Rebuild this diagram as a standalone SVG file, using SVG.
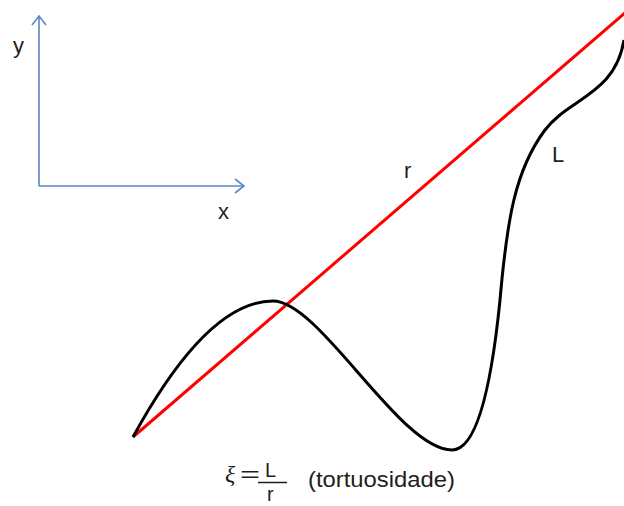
<svg xmlns="http://www.w3.org/2000/svg" width="624" height="506" viewBox="0 0 624 506">
<style>
.axis{stroke:#5b87c6;stroke-width:1.6;fill:none}
.lbl{font-family:"Liberation Sans",Arial,sans-serif;font-size:22px;fill:#1e1e1e}
.frac{font-family:"Liberation Sans",Arial,sans-serif;font-size:20px;fill:#1e1e1e}
.math{font-family:"Liberation Serif","DejaVu Serif",serif;font-size:24px;fill:#1e1e1e}
</style>
<rect width="624" height="506" fill="#fff"/>
<g id="axes">
<path class="axis" d="M39,186 V16 M39,186 H244"/>
<path class="axis" d="M32,25 L39,16 L46,25"/>
<path class="axis" d="M235,179 L244,186 L235,193"/>
<text class="lbl" x="13" y="53">y</text>
<text class="lbl" x="218" y="219">x</text>
</g>
<g id="connectors">
<line id="r-line" x1="133" y1="437" x2="626" y2="12" stroke="#ff0000" stroke-width="3"/>
<path id="L-curve" d="M133,437 C163,382 215,301 273,301 C320,301 400,450 452,450 C480,450 493,370 500,300 C507,220 515,170 545,130 C569,98 615,95 624,40" fill="none" stroke="#000" stroke-width="3"/>
</g>
<g id="labels">
<text class="lbl" x="404" y="178">r</text>
<text class="lbl" x="552" y="162">L</text>
</g>
<g id="formula">
<text class="math" x="225" y="482" font-style="italic">ξ</text>
<text class="lbl" x="240" y="482" font-size="26" textLength="20" lengthAdjust="spacingAndGlyphs">=</text>
<text class="frac" x="265" y="477">L</text>
<line x1="258" y1="482.5" x2="287" y2="482.5" stroke="#1e1e1e" stroke-width="1.5"/>
<text class="frac" x="267" y="501">r</text>
<text class="lbl" x="308" y="487" textLength="147" lengthAdjust="spacingAndGlyphs">(tortuosidade)</text>
</g>
</svg>
